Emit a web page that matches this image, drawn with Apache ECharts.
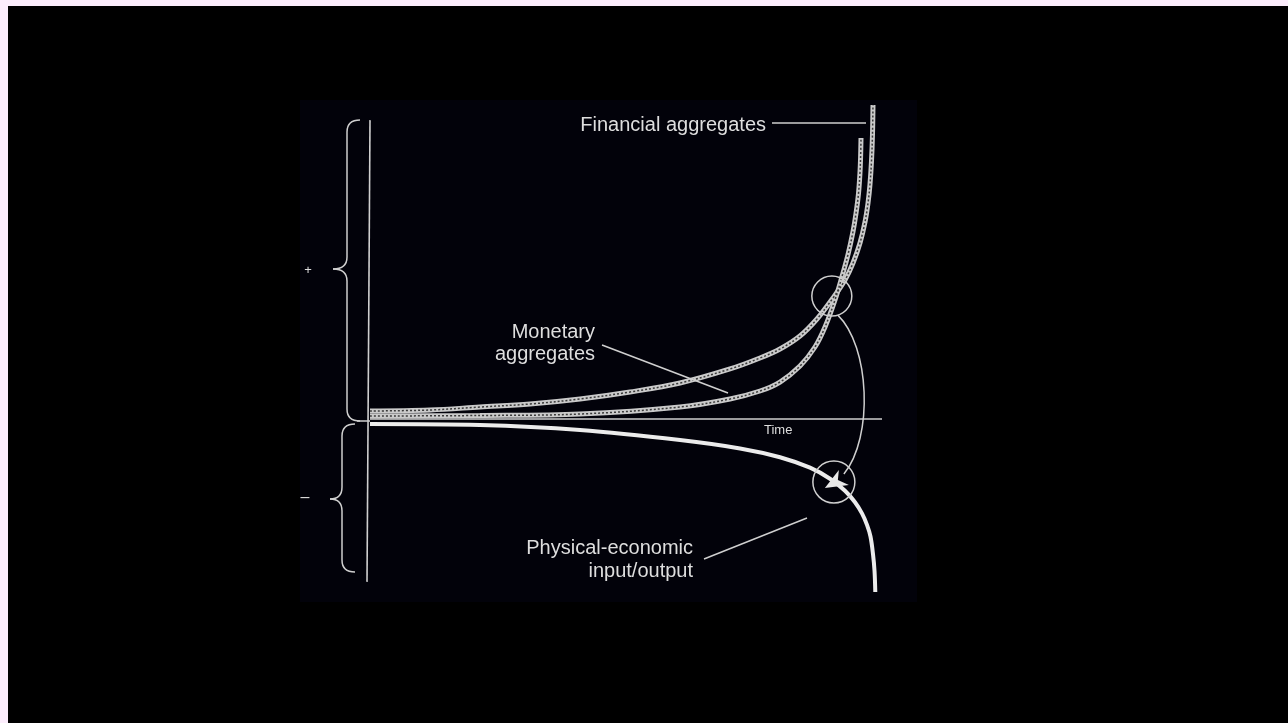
<!DOCTYPE html>
<html><head><meta charset="utf-8">
<script src="https://cdn.jsdelivr.net/npm/echarts@6/dist/echarts.min.js"></script>
<style>html,body{margin:0;padding:0;background:#000;}#c{width:1288px;height:723px;}</style>
</head><body><div id="c"></div>
<script>
// ---- data (time 0..100, index relative to the Time axis) ----
const timeFinancial = [0, 11.72, 21.48, 31.25, 41.02, 50.78, 60.55, 70.31, 76.17, 80.08, 83.98, 87.30, 90.43, 92.77, 94.34, 95.70, 96.68, 97.27, 97.66, 97.95, 98.14, 98.24];
const financialAggregates = [2.5, 2.81, 3.75, 4.69, 6.25, 8.44, 11.25, 15.63, 19.06, 21.88, 25.94, 31.25, 37.81, 43.44, 48.75, 55.0, 61.56, 67.5, 73.44, 80.63, 88.75, 98.13];
const timeMonetary = [0, 21.48, 41.02, 60.55, 70.31, 76.17, 80.08, 83.98, 86.91, 88.87, 90.82, 92.19, 93.36, 94.34, 94.92, 95.41, 95.70, 95.82, 95.90];
const monetaryAggregates = [0.94, 1.09, 1.56, 3.75, 6.25, 8.75, 11.56, 16.56, 22.5, 28.75, 37.19, 44.53, 51.41, 58.59, 64.22, 70.47, 77.03, 81.88, 87.81];
const timePhysical = [0, 21.48, 41.02, 60.55, 72.27, 80.08, 85.94, 89.84, 92.77, 94.73, 96.09, 97.07, 97.75, 98.24, 98.54, 98.69];
const physicalOutput = [-1.56, -1.88, -3.44, -6.56, -9.19, -11.94, -15.22, -18.66, -22.41, -26.0, -29.5, -33.09, -36.72, -42.19, -47.5, -54.06];

const seriesNames = ['Financial aggregates', 'Monetary aggregates', 'Physical-economic input/output'];
const monetaryLabel = ['Monetary', 'aggregates'];
const physicalLabel = ['Physical-economic', 'input/output'];
const timeLabel = 'Time';
const plusLabel = '+';
const minusLabel = '–';

// annotation anchors (data units)
const crossingPoint = [90.2, 38.4];
const impactPoint = [90.6, -19.7];
const axisTop = 93.4, axisBottom = -50.9, timeEnd = 100;

const zip = (xs, ys) => xs.map((x, i) => [x, ys[i]]);

const chart = echarts.init(document.getElementById('c'));
const ropeBase = { color: '#cacaca', width: 5 };
const ropeDots = { color: '#3a3a3a', width: 1.5, type: [2, 2] };
const SM = 0.35;

chart.setOption({
  backgroundColor: '#000',
  animation: false,
  grid: { left: 370, right: 406, top: 99, bottom: 112 },
  xAxis: { type: 'value', min: 0, max: 100, show: false },
  yAxis: { type: 'value', min: -60, max: 100, show: false },
  series: [
    { name: seriesNames[0], type: 'line', data: zip(timeFinancial, financialAggregates), smooth: SM, symbol: 'none', lineStyle: ropeBase, z: 3 },
    { name: seriesNames[0] + ' texture', type: 'line', data: zip(timeFinancial, financialAggregates), smooth: SM, symbol: 'none', lineStyle: ropeDots, z: 4 },
    { name: seriesNames[1], type: 'line', data: zip(timeMonetary, monetaryAggregates), smooth: SM, symbol: 'none', lineStyle: ropeBase, z: 3 },
    { name: seriesNames[1] + ' texture', type: 'line', data: zip(timeMonetary, monetaryAggregates), smooth: SM, symbol: 'none', lineStyle: ropeDots, z: 4 },
    { name: seriesNames[2], type: 'line', data: zip(timePhysical, physicalOutput), smooth: SM, symbol: 'none', lineStyle: { color: '#ececec', width: 4 }, z: 3 }
  ]
});

const P = (t, v) => chart.convertToPixel({ gridIndex: 0 }, [t, v]);
const o = P(0, 0);
const ink = '#cfcfcf';
const st = (w) => ({ stroke: ink, lineWidth: w || 1.5, fill: null });

function brace(xR, yTop, yBot, yTip, xMid, xTip, r) {
  return [
    { type: 'bezierCurve', shape: { x1: xR, y1: yTop, cpx1: xMid, cpy1: yTop, x2: xMid, y2: yTop + r }, style: st() },
    { type: 'line', shape: { x1: xMid, y1: yTop + r, x2: xMid, y2: yTip - r }, style: st() },
    { type: 'bezierCurve', shape: { x1: xMid, y1: yTip - r, cpx1: xMid, cpy1: yTip, x2: xTip, y2: yTip }, style: st() },
    { type: 'bezierCurve', shape: { x1: xTip, y1: yTip, cpx1: xMid, cpy1: yTip, x2: xMid, y2: yTip + r }, style: st() },
    { type: 'line', shape: { x1: xMid, y1: yTip + r, x2: xMid, y2: yBot - r }, style: st() },
    { type: 'bezierCurve', shape: { x1: xMid, y1: yBot - r, cpx1: xMid, cpy1: yBot, x2: xR, y2: yBot }, style: st() }
  ];
}

const vt = P(0, axisTop), vb = P(0, axisBottom), te = P(timeEnd, 0);
const c1 = P(crossingPoint[0], crossingPoint[1]);
const c2 = P(impactPoint[0], impactPoint[1]);
const font = (s) => s + 'px "Liberation Sans", Arial, sans-serif';
const txt = (x, y, s, size, align) => ({ type: 'text', x: x, y: y, style: { text: s, fill: '#dedede', font: font(size), textAlign: align || 'left', textVerticalAlign: 'middle' }, z: 20 });

const els = [
  { type: 'rect', shape: { x: 0, y: 0, width: 1288, height: 6 }, style: { fill: '#fcedfc' }, z: 50 },
  { type: 'rect', shape: { x: 0, y: 0, width: 8, height: 723 }, style: { fill: '#fcedfc' }, z: 50 },
  { type: 'rect', shape: { x: o[0] - 70, y: vt[1] - 20, width: te[0] - o[0] + 105, height: vb[1] - vt[1] + 40 }, style: { fill: '#02020a' }, z: -10, silent: true },
  // axes
  { type: 'line', shape: { x1: o[0], y1: vt[1], x2: o[0] - 3, y2: vb[1] }, style: st(1.6), z: 10 },
  { type: 'line', shape: { x1: o[0], y1: o[1], x2: te[0], y2: o[1] }, style: st(1.6), z: 10 },
  { type: 'line', shape: { x1: o[0] - 13, y1: o[1] + 2, x2: o[0], y2: o[1] + 2 }, style: st(1.5), z: 10 },
  // circles
  { type: 'circle', shape: { cx: c1[0], cy: c1[1], r: 20 }, style: st(1.5), z: 10 },
  { type: 'circle', shape: { cx: c2[0], cy: c2[1], r: 21 }, style: st(1.5), z: 10 },
  // arc from crossing to impact
  { type: 'bezierCurve', shape: { x1: c1[0] + 6, y1: c1[1] + 19, cpx1: c1[0] + 38, cpy1: c1[1] + 50, cpx2: c2[0] + 40, cpy2: c2[1] - 45, x2: c2[0] + 10, y2: c2[1] - 8 }, style: st(1.5), z: 10 },
  { type: 'polygon', shape: { points: [[c2[0] - 9, c2[1] + 6], [c2[0] + 5, c2[1] - 12], [c2[0] + 4, c2[1] - 2], [c2[0] + 15, c2[1] + 3]] }, style: { fill: '#e8e8e8' }, z: 11 },
  // leaders
  { type: 'line', shape: { x1: 772, y1: 123, x2: te[0] - 16, y2: 123 }, style: st(1.5), z: 10 },
  { type: 'line', shape: { x1: 602, y1: 345, x2: 728, y2: 393 }, style: st(1.5), z: 10 },
  { type: 'line', shape: { x1: 704, y1: 559, x2: 807, y2: 518 }, style: st(1.5), z: 10 },
  // labels
  txt(766, 125, seriesNames[0], 20, 'right'),
  txt(595, 332, monetaryLabel[0], 20, 'right'),
  txt(595, 354, monetaryLabel[1], 20, 'right'),
  txt(693, 548, physicalLabel[0], 20, 'right'),
  txt(693, 571, physicalLabel[1], 20, 'right'),
  txt(764, 430, timeLabel, 13, 'left'),
  txt(308, 270, plusLabel, 13, 'center'),
  txt(305, 498, minusLabel, 16, 'center')
].concat(
  brace(o[0] - 10, vt[1], o[1] + 2, 269, o[0] - 23, o[0] - 37, 12),
  brace(o[0] - 15, o[1] + 5, 572, 499, o[0] - 28, o[0] - 40, 12)
);
els.forEach(e => { if (e.z === undefined) e.z = 10; });
chart.setOption({ graphic: { elements: els } });
</script>
</body></html>
